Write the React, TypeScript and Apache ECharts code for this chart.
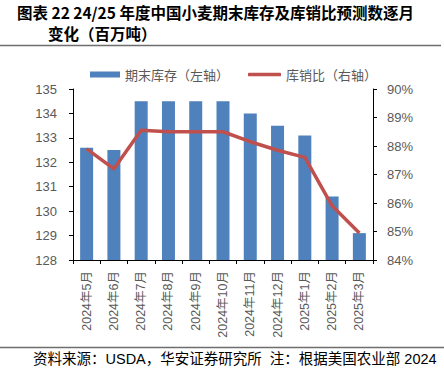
import React, { useEffect, useRef } from "react";
import * as echarts from "echarts";

const categories = [
  "2024年5月", "2024年6月", "2024年7月", "2024年8月", "2024年9月", "2024年10月",
  "2024年11月", "2024年12月", "2025年1月", "2025年2月", "2025年3月",
];
const stockValues = [132.6, 132.5, 134.5, 134.5, 134.5, 134.5, 134.0, 133.5, 133.1, 130.6, 129.1];
const ratioValues = [87.9, 87.2, 88.55, 88.5, 88.5, 88.5, 88.15, 87.85, 87.6, 85.9, 84.95];
const stockName = "期末库存（左轴）";
const ratioName = "库销比（右轴）";
const titleLine1 = "图表 22 24/25 年度中国小麦期末库存及库销比预测数逐月";
const titleLine2 = "变化（百万吨）";
const footerText = "资料来源：USDA，华安证券研究所  注：根据美国农业部 2024";

const FONT = "'Liberation Sans', Arial, 'Noto Sans CJK SC', sans-serif";
const CJK = "'Noto Sans CJK SC', sans-serif";

export default function App() {
  const ref = useRef<HTMLDivElement>(null);
  useEffect(() => {
    document.body.style.margin = "0";
    if (!ref.current) return;
    const chart = echarts.init(ref.current, undefined, { renderer: "svg" });
    chart.setOption({
      animation: false,
      backgroundColor: "#ffffff",
      textStyle: { fontFamily: FONT },
      graphic: [
        {
          type: "text", left: 17, top: 4,
          style: { text: titleLine1, font: `bold 15.5px ${CJK}`, fill: "#000" },
        },
        {
          type: "text", left: 48, top: 25,
          style: { text: titleLine2, font: `bold 15.5px ${CJK}`, fill: "#000" },
        },
        {
          type: "line", shape: { x1: 0, y1: 45.5, x2: 441, y2: 45.5 },
          style: { stroke: "#6e6e6e", lineWidth: 1.5 },
        },
        {
          type: "line", shape: { x1: 0, y1: 347.5, x2: 444, y2: 347.5 },
          style: { stroke: "#6e6e6e", lineWidth: 1.5 },
        },
        {
          type: "text", left: 33, top: 352,
          style: { text: footerText, font: `14.5px ${FONT}`, fill: "#000" },
        },
      ],
      legend: [
        {
          data: [{ name: stockName, icon: "rect" }],
          left: 85, top: 63, itemWidth: 30, itemHeight: 6,
          textStyle: { color: "#595959", fontSize: 13, fontFamily: CJK },
        },
        {
          data: [{ name: ratioName, icon: "roundRect" }],
          left: 243, top: 63, itemWidth: 33, itemHeight: 3.5,
          textStyle: { color: "#595959", fontSize: 13, fontFamily: CJK },
        },
      ],
      grid: { left: 73, right: 71, top: 89, bottom: 119 },
      xAxis: {
        type: "category",
        data: categories,
        axisLine: { lineStyle: { color: "#000", width: 1 } },
        axisTick: { show: true, length: 4, lineStyle: { color: "#000" } },
        axisLabel: { rotate: 90, color: "#595959", fontSize: 12.5, margin: 11, fontFamily: FONT },
      },
      yAxis: [
        {
          type: "value", min: 128, max: 135, interval: 1,
          axisLine: { show: true, lineStyle: { color: "#000" } },
          axisTick: { show: true, length: 4, lineStyle: { color: "#000" } },
          splitLine: { show: false },
          axisLabel: { color: "#595959", fontSize: 13, margin: 16 },
        },
        {
          type: "value", min: 84, max: 90, interval: 1,
          axisLine: { show: true, lineStyle: { color: "#000" } },
          axisTick: { show: true, length: 4, lineStyle: { color: "#000" } },
          splitLine: { show: false },
          axisLabel: { color: "#595959", fontSize: 13, margin: 14, formatter: "{value}%" },
        },
      ],
      series: [
        {
          name: stockName, type: "bar", data: stockValues, yAxisIndex: 0,
          barWidth: 13, itemStyle: { color: "#4F81BD" },
        },
        {
          name: ratioName, type: "line", data: ratioValues, yAxisIndex: 1,
          symbol: "none", lineStyle: { color: "#C0504D", width: 3.5, join: "round" },
          itemStyle: { color: "#C0504D" },
        },
      ],
    });
    return () => chart.dispose();
  }, []);
  return <div ref={ref} style={{ width: 444, height: 379 }} />;
}
